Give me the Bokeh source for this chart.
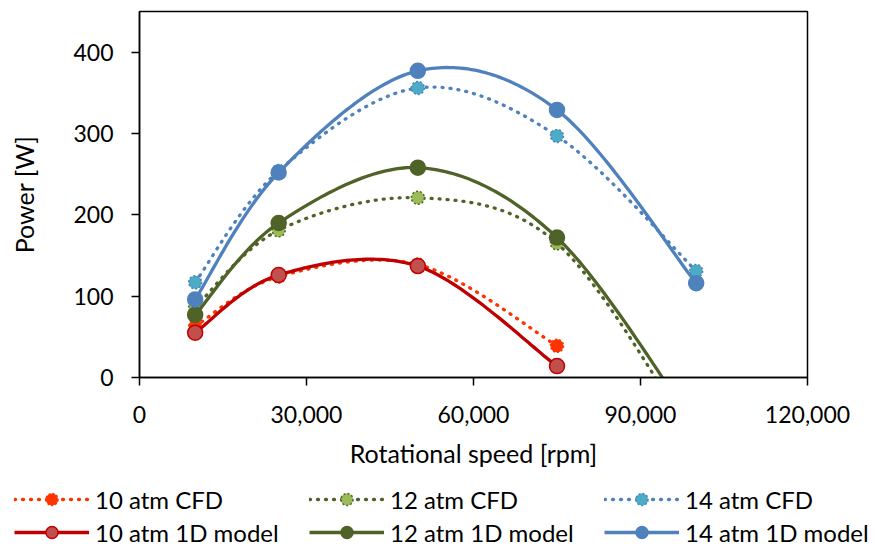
import numpy as np
from bokeh.plotting import figure
from bokeh.layouts import column, row
from bokeh.models import (Range1d, FixedTicker, NumeralTickFormatter, Legend, LegendItem)
from bokeh.embed import file_html
from bokeh.resources import INLINE

# ---- data ----
speed = [10000, 25000, 50000, 75000, 100000]
speed_10 = [10000, 25000, 50000, 75000]
cfd_10 = [63, 124, 139, 39]
model_10 = [55, 126, 137, 14]
cfd_12 = [86, 181, 221, 165, -80]
model_12 = [77, 190, 258, 172, -62]
cfd_14 = [117, 254, 356, 297, 131]
model_14 = [96, 252, 377, 329, 116]

x_ticks = [0, 30000, 60000, 90000, 120000]
y_ticks = [0, 100, 200, 300, 400]
series_names = ["10 atm CFD", "12 atm CFD", "14 atm CFD",
                "10 atm 1D model", "12 atm 1D model", "14 atm 1D model"]

FONT = "Lato"


def smooth(xs, ys, n=40):
    """Excel-like smoothed line (cubic Bezier, Catmull-Rom control points)."""
    P = np.column_stack([np.asarray(xs, float), np.asarray(ys, float)])
    m = len(P)
    out = []
    for i in range(m - 1):
        a = P[i - 1] if i > 0 else P[i]
        d = P[i + 2] if i + 2 < m else P[i + 1]
        b, c = P[i], P[i + 1]
        c1 = b + (c - a) / 6.0
        c2 = c - (d - b) / 6.0
        t = np.linspace(0, 1, n)[:, None]
        seg = ((1 - t) ** 3) * b + 3 * ((1 - t) ** 2) * t * c1 + 3 * (1 - t) * t ** 2 * c2 + t ** 3 * c
        out.append(seg if i == 0 else seg[1:])
    s = np.vstack(out)
    return s[:, 0], s[:, 1]


W = 875
H_MAIN = 470
H_LEG = 79

p = figure(width=W, height=H_MAIN, output_backend="svg", toolbar_location=None,
           x_range=Range1d(0, 120000), y_range=Range1d(0, 450),
           min_border_left=139, min_border_right=68, min_border_top=11, min_border_bottom=90)
p.grid.visible = False
p.outline_line_color = "black"
p.outline_line_width = 1.5
p.background_fill_color = "white"
p.border_fill_color = "white"

for ax in (p.xaxis[0], p.yaxis[0]):
    ax.axis_line_color = "black"
    ax.axis_line_width = 1.5
    ax.major_tick_line_color = "black"
    ax.major_tick_line_width = 1.5
    ax.major_tick_in = 0
    ax.major_tick_out = 8
    ax.minor_tick_line_color = None
    ax.major_label_text_font = FONT
    ax.major_label_text_font_size = "23px"
    ax.major_label_text_color = "black"
    ax.axis_label_text_font = FONT
    ax.axis_label_text_font_size = "25px"
    ax.axis_label_text_font_style = "normal"
    ax.axis_label_text_color = "black"

p.xaxis.ticker = FixedTicker(ticks=x_ticks)
p.yaxis.ticker = FixedTicker(ticks=y_ticks)
p.xaxis.formatter = NumeralTickFormatter(format="0,0")
p.xaxis.axis_label = "Rotational speed [rpm]"
p.yaxis.axis_label = "Power [W]"
p.yaxis.major_label_standoff = 18
p.yaxis.axis_label_standoff = 31
p.xaxis.major_label_standoff = 20
p.xaxis.axis_label_standoff = 12

DOT = "1 7"

specs = [
    # name, xs, ys, line color, dash, marker fill, marker line, marker dash, size
    (series_names[0], speed_10, cfd_10, "#FF3300", DOT, "#FF3300", "#FF3300", "2 2", 13),
    (series_names[1], speed, cfd_12, "#4F6228", DOT, "#9BBB59", "#4F6228", "2 2", 13),
    (series_names[2], speed, cfd_14, "#4F81BD", DOT, "#4BACC6", "#4F81BD", "2 2", 13),
    (series_names[3], speed_10, model_10, "#C00000", "solid", "#C0504D", "#C00000", "solid", 15),
    (series_names[4], speed, model_12, "#4F6228", "solid", "#4F6228", "#4F6228", "solid", 15),
    (series_names[5], speed, model_14, "#4F81BD", "solid", "#4F81BD", "#4F81BD", "solid", 15),
]

# legend strip (same styles, drawn in its own small figure below the chart)
lg = figure(width=W, height=H_LEG, output_backend="svg", toolbar_location=None,
            x_axis_type=None, y_axis_type=None,
            x_range=Range1d(0, 1), y_range=Range1d(0, 1),
            min_border_left=0, min_border_right=0, min_border_top=0, min_border_bottom=0)
lg.grid.visible = False
lg.outline_line_color = None
lg.background_fill_color = "white"
lg.border_fill_color = "white"

items = []
for name, xs, ys, lc, dash, mf, ml, mdash, size in specs:
    sx, sy = smooth(xs, ys)
    cap = "round" if dash != "solid" else "butt"
    p.line(sx, sy, line_color=lc, line_width=3.3, line_dash=dash, line_cap=cap, line_join="round")
    p.scatter(xs, ys, marker="circle", size=size, fill_color=mf,
              line_color=ml, line_width=1.5, line_dash=mdash)
    # legend proxies (no visible data inside the strip)
    lr = lg.line([np.nan], [np.nan], line_color=lc, line_width=3.3, line_dash=dash, line_cap=cap)
    mr = lg.scatter([np.nan], [np.nan], marker="circle", size=size, fill_color=mf,
                    line_color=ml, line_width=1.5, line_dash=mdash)
    items.append(LegendItem(label=name, renderers=[lr, mr]))

legend = Legend(items=items, orientation="horizontal", ncols=3,
                location="top_left",
                glyph_width=75, glyph_height=30, label_height=30,
                label_width=211, label_standoff=6, spacing=3,
                padding=0, margin=14,
                label_text_font=FONT, label_text_font_size="24px",
                label_text_color="black",
                border_line_alpha=0, background_fill_alpha=0)
lg.add_layout(legend)

layout = column(p, row(lg), spacing=0)
open("out.html", "w").write(file_html(layout, INLINE))
